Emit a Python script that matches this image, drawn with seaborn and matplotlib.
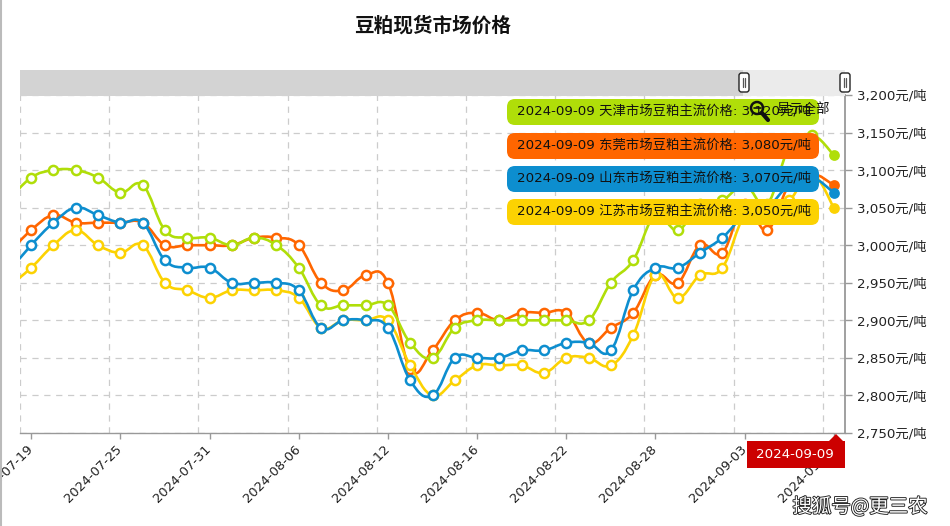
import matplotlib
matplotlib.use('Agg')
import numpy as np
import pandas as pd
import seaborn as sns
import matplotlib.pyplot as plt
import matplotlib.patheffects as pe
from matplotlib.patches import FancyBboxPatch, PathPatch, Polygon, Rectangle, Circle
from matplotlib.lines import Line2D
from matplotlib.path import Path
from matplotlib.ticker import FuncFormatter
from matplotlib.transforms import Affine2D, ScaledTranslation

# trading days; the first one sits just left of the visible window
dates = ['2024-07-18', '2024-07-19', '2024-07-22', '2024-07-23', '2024-07-24', '2024-07-25', '2024-07-26',
         '2024-07-29', '2024-07-30', '2024-07-31', '2024-08-01', '2024-08-02', '2024-08-05', '2024-08-06',
         '2024-08-07', '2024-08-08', '2024-08-09', '2024-08-12', '2024-08-13', '2024-08-14', '2024-08-15',
         '2024-08-16', '2024-08-19', '2024-08-20', '2024-08-21', '2024-08-22', '2024-08-23', '2024-08-26',
         '2024-08-27', '2024-08-28', '2024-08-29', '2024-08-30', '2024-09-02', '2024-09-03', '2024-09-04',
         '2024-09-05', '2024-09-06', '2024-09-09']

tianjin = [3060, 3090, 3100, 3100, 3090, 3070, 3080, 3020, 3010, 3010, 3000, 3010, 3000, 2970, 2920, 2920,
           2920, 2920, 2870, 2850, 2890, 2900, 2900, 2900, 2900, 2900, 2900, 2950, 2980, 3040, 3020, 3055,
           3060, 3080, 3055, 3130, 3147, 3120]
dongguan = [2990, 3020, 3040, 3030, 3030, 3030, 3030, 3000, 3000, 3000, 3000, 3010, 3010, 3000, 2950, 2940,
            2960, 2950, 2835, 2860, 2900, 2910, 2900, 2910, 2910, 2910, 2870, 2890, 2910, 2960, 2950, 3000,
            2990, 3055, 3020, 3080, 3095, 3080]
shandong = [2965, 3000, 3030, 3050, 3040, 3030, 3030, 2980, 2970, 2970, 2950, 2950, 2950, 2940, 2890, 2900,
            2900, 2890, 2820, 2800, 2850, 2850, 2850, 2860, 2860, 2870, 2870, 2860, 2940, 2970, 2970, 2990,
            3010, 3040, 3050, 3080, 3090, 3070]
jiangsu = [2945, 2970, 3000, 3020, 3000, 2990, 3000, 2950, 2940, 2930, 2940, 2940, 2940, 2930, 2890, 2900,
           2900, 2900, 2840, 2800, 2820, 2840, 2840, 2840, 2830, 2850, 2850, 2840, 2880, 2960, 2930, 2960,
           2970, 3040, 3050, 3060, 3095, 3050]

draw_order = ['东莞', '江苏', '山东', '天津']
tooltip_order = ['天津', '东莞', '山东', '江苏']
series_values = {'天津': tianjin, '东莞': dongguan, '山东': shandong, '江苏': jiangsu}
series_colors = {'天津': '#B0DE09', '东莞': '#FF6600', '山东': '#0D8ECF', '江苏': '#FCD202'}
y_ticks = list(range(2750, 3201, 50))

sns.set_style('white')
plt.rcParams['font.family'] = ['DejaVu Sans', 'Noto Sans CJK SC']

W, H = 950, 526
fig = plt.figure(figsize=(W / 100, H / 100), dpi=100, facecolor='white')
ax = fig.add_axes([20 / W, 1 - 433 / H, 825 / W, 338 / H])
px = Affine2D().scale(1, -1).translate(0, H)  # top-left pixel coords for page furniture

df = pd.DataFrame({'pos': np.arange(len(dates)) - 1, 'date': dates})


def smooth_path(xs, ys, k=0.2):
    verts = [(xs[0], ys[0])]
    codes = [Path.MOVETO]
    n = len(xs)
    for i in range(n - 1):
        x0, y0 = xs[max(i - 1, 0)], ys[max(i - 1, 0)]
        x3, y3 = xs[min(i + 2, n - 1)], ys[min(i + 2, n - 1)]
        verts += [(xs[i] + (xs[i + 1] - x0) * k, ys[i] + (ys[i + 1] - y0) * k),
                  (xs[i + 1] - (x3 - xs[i]) * k, ys[i + 1] - (y3 - ys[i]) * k),
                  (xs[i + 1], ys[i + 1])]
        codes += [Path.CURVE4] * 3
    return Path(verts, codes)


for i, name in enumerate(draw_order):
    color = series_colors[name]
    vals = series_values[name]
    df[name] = vals
    z = 3 + i
    ax.add_patch(PathPatch(smooth_path(df['pos'].values, df[name].values), fill=False, edgecolor=color,
                           lw=1.9, zorder=z))
    sns.lineplot(data=df.iloc[:-1], x='pos', y=name, ax=ax, color=color, linewidth=0, marker='o', markersize=6.6,
                 markerfacecolor='white', markeredgecolor=color, markeredgewidth=1.8, estimator=None,
                 errorbar=None, zorder=z + 0.5)
    sns.scatterplot(data=df.iloc[[-1]], x='pos', y=name, ax=ax, color=color, s=60, linewidth=0, zorder=z + 0.6)

ax.set_xlim(-0.5, len(dates) - 1.5)
ax.set_ylim(2750, 3200)
ax.set_xlabel('')
ax.set_ylabel('')

tick_pos = list(range(0, len(dates) - 1, 4))
ax.set_xticks(tick_pos)
ax.set_xticklabels([dates[p + 1] for p in tick_pos], rotation=45, ha='right', rotation_mode='anchor',
                   fontsize=9.4, color='#222222')
ax.set_xticks([p - 0.5 for p in tick_pos], minor=True)
ax.tick_params(axis='x', which='major', length=4, width=1, color='#999999', bottom=True, pad=3)
ax.tick_params(axis='x', which='minor', length=0)
shift = ScaledTranslation(-5 / 100, 0, fig.dpi_scale_trans)
for lab in ax.get_xticklabels():
    lab.set_transform(lab.get_transform() + shift)

ax.yaxis.tick_right()
ax.set_yticks(y_ticks)
ax.yaxis.set_major_formatter(FuncFormatter(lambda v, _: f'{v:,.0f}元/吨'))
ax.tick_params(axis='y', length=5, width=1, color='#999999', right=True, pad=4, labelsize=9.6, labelcolor='#222222')

grid_style = dict(color='#cccccc', lw=0.9, ls=(0, (5, 4.5)))
ax.grid(True, axis='y', which='major', **grid_style)
ax.grid(True, axis='x', which='minor', **grid_style)
ax.grid(False, axis='x', which='major')
ax.set_axisbelow(True)

for side in ['top', 'left']:
    ax.spines[side].set_visible(False)
ax.spines['right'].set_color('#999999')
ax.spines['right'].set_linewidth(1.3)
ax.spines['bottom'].set_color('#999999')
ax.spines['bottom'].set_linewidth(1.0)

# page border and title
fig.add_artist(Line2D([0.5, 0.5], [0, H], transform=px, color='#bbbbbb', lw=1.5))
fig.text(432.5 / W, 1 - 26 / H, '豆粕现货市场价格', ha='center', va='center', fontsize=14.1, fontweight='bold',
         family=['Noto Sans CJK SC'], color='#111111')

# scrollbar band and handles
fig.add_artist(Rectangle((20, 70), 825, 26, transform=px, facecolor='#ebebeb', edgecolor='none', zorder=6))
fig.add_artist(Rectangle((20, 70), 723, 26, transform=px, facecolor='#d3d3d3', edgecolor='none', zorder=6))
for hx in [744, 845]:
    fig.add_artist(FancyBboxPatch((hx - 4, 74), 8, 17, boxstyle='round,pad=1,rounding_size=2.5', transform=px,
                                  facecolor='white', edgecolor='#222222', lw=1, zorder=7))
    for off in [-1.2, 1.2]:
        fig.add_artist(Line2D([hx + off, hx + off], [78, 87], transform=px, color='#555555', lw=0.9, zorder=8))

# balloons
last_date = dates[-1]
balloon_tops = [99, 133, 166, 199]
for name, top in zip(tooltip_order, balloon_tops):
    fig.add_artist(FancyBboxPatch((507 + 8, top + 8), 312 - 16, 26 - 16, boxstyle='round,pad=8,rounding_size=8',
                                  transform=px, facecolor=series_colors[name], edgecolor='none', zorder=9))
    fig.text(517 / W, 1 - (top + 13) / H, f'{last_date} {name}市场豆粕主流价格: {series_values[name][-1]:,}元/吨',
             ha='left', va='center', fontsize=9.6, color='#111111', zorder=10)

# zoom-out button on top of the first balloon
fig.add_artist(Circle((757, 108), 6, transform=px, facecolor='none', edgecolor='#111111', lw=1.8, zorder=11))
fig.add_artist(Line2D([762, 768], [113, 120], transform=px, color='#111111', lw=3, zorder=11))
fig.add_artist(Line2D([753.5, 760.5], [108, 108], transform=px, color='#111111', lw=1.2, zorder=11))
fig.text(803 / W, 1 - 110 / H, '显示全部', ha='center', va='center', fontsize=9.6, color='#111111', zorder=11)

# red date cursor label
fig.add_artist(Polygon([(747, 441), (829, 441), (836, 434), (843, 441), (845, 441), (845, 468), (747, 468)],
                       closed=True, transform=px, facecolor='#CC0000', edgecolor='none', zorder=12))
fig.text(795 / W, 1 - 455 / H, last_date, ha='center', va='center', fontsize=9.6, color='white', zorder=13)

# watermark
fig.text(928 / W, 1 - 507 / H, '搜狐号@更三农', ha='right', va='center', fontsize=14, color='white', zorder=14,
         family=['Noto Sans CJK SC'],
         path_effects=[pe.withStroke(linewidth=1.3, foreground='#222222')])

fig.savefig('out.png', dpi=100)
